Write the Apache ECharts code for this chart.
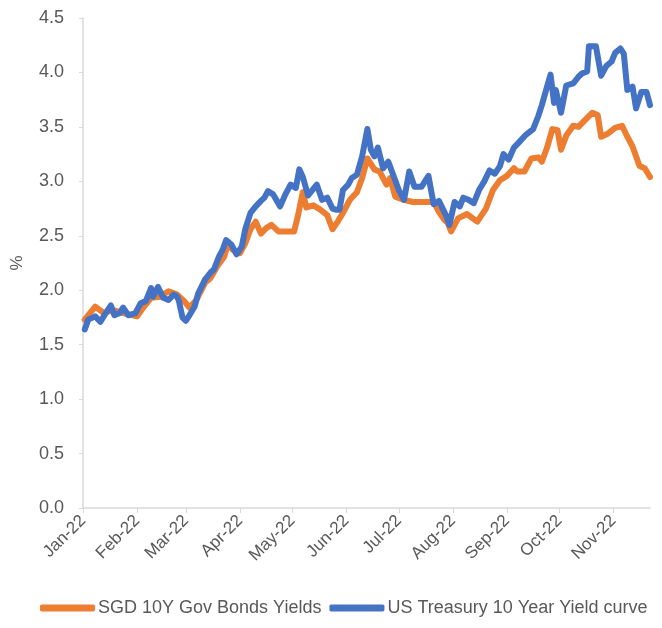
<!DOCTYPE html>
<html>
<head>
<meta charset="utf-8">
<title>SGD 10Y vs US Treasury 10Y</title>
<script src="https://cdn.jsdelivr.net/npm/echarts@6/dist/echarts.min.js"></script>
<style>
  html, body { margin: 0; padding: 0; background: #fff; }
  #chart { width: 662px; height: 628px; }
</style>
</head>
<body>
<div id="chart"></div>
<script>
// month names used for the x tick labels (Jan-22 ... Nov-22)
var monthNames = ['Jan', 'Feb', 'Mar', 'Apr', 'May', 'Jun', 'Jul', 'Aug', 'Sep', 'Oct', 'Nov', 'Dec'];

// SGD 10Y Gov Bonds Yields (%)
var sgdDates = ['2022-01-02','2022-01-08','2022-01-13','2022-01-18','2022-01-24','2022-02-01','2022-02-05','2022-02-09','2022-02-14','2022-02-19',
  '2022-02-24','2022-02-28','2022-03-03','2022-03-07','2022-03-12','2022-03-15','2022-03-19','2022-03-23','2022-03-25','2022-03-28',
  '2022-04-01','2022-04-04','2022-04-07','2022-04-10','2022-04-13','2022-04-16','2022-04-19','2022-04-23','2022-04-28','2022-05-02',
  '2022-05-04','2022-05-07','2022-05-09','2022-05-13','2022-05-17','2022-05-21','2022-05-24','2022-05-27','2022-05-30','2022-06-03',
  '2022-06-07','2022-06-10','2022-06-13','2022-06-17','2022-06-20','2022-06-24','2022-06-26','2022-06-29','2022-07-04','2022-07-09',
  '2022-07-15','2022-07-21','2022-07-24','2022-07-27','2022-07-29','2022-07-31','2022-08-04','2022-08-09','2022-08-15','2022-08-20',
  '2022-08-24','2022-08-28','2022-09-01','2022-09-05','2022-09-07','2022-09-11','2022-09-15','2022-09-19','2022-09-21','2022-09-24',
  '2022-09-27','2022-09-30','2022-10-02','2022-10-05','2022-10-09','2022-10-12','2022-10-15','2022-10-20','2022-10-23','2022-10-25',
  '2022-10-29','2022-11-02','2022-11-06','2022-11-09','2022-11-12','2022-11-14','2022-11-16','2022-11-19','2022-11-22'];
var sgdYields = [1.73,1.85,1.79,1.82,1.79,1.76,1.85,1.93,1.94,1.99,
  1.96,1.90,1.84,1.91,2.07,2.11,2.22,2.31,2.42,2.37,
  2.34,2.43,2.56,2.63,2.52,2.57,2.60,2.54,2.54,2.54,
  2.67,2.90,2.76,2.78,2.74,2.69,2.56,2.63,2.71,2.83,
  2.90,3.03,3.21,3.11,3.09,2.97,3.03,2.86,2.83,2.81,
  2.81,2.81,2.72,2.65,2.62,2.54,2.66,2.70,2.63,2.75,
  2.92,3.01,3.05,3.12,3.09,3.09,3.21,3.22,3.18,3.31,
  3.48,3.47,3.29,3.42,3.51,3.50,3.55,3.63,3.61,3.41,
  3.44,3.49,3.51,3.41,3.32,3.23,3.14,3.12,3.04];

// US Treasury 10 Year Yield curve (%)
var ustDates = ['2022-01-02','2022-01-04','2022-01-08','2022-01-11','2022-01-14','2022-01-17','2022-01-19','2022-01-22','2022-01-24','2022-01-27',
  '2022-01-31','2022-02-03','2022-02-06','2022-02-09','2022-02-10','2022-02-13','2022-02-16','2022-02-19','2022-02-22','2022-02-24',
  '2022-02-25','2022-02-27','2022-03-01','2022-03-03','2022-03-06','2022-03-08','2022-03-12','2022-03-15','2022-03-17','2022-03-20',
  '2022-03-22','2022-03-24','2022-03-27','2022-03-30','2022-04-02','2022-04-04','2022-04-07','2022-04-10','2022-04-13','2022-04-15',
  '2022-04-17','2022-04-20','2022-04-24','2022-04-27','2022-04-30','2022-05-03','2022-05-05','2022-05-07','2022-05-10','2022-05-12',
  '2022-05-15','2022-05-18','2022-05-21','2022-05-24','2022-05-26','2022-05-28','2022-05-30','2022-06-02','2022-06-04','2022-06-07',
  '2022-06-10','2022-06-13','2022-06-15','2022-06-17','2022-06-19','2022-06-22','2022-06-25','2022-06-28','2022-07-01','2022-07-04',
  '2022-07-07','2022-07-10','2022-07-14','2022-07-18','2022-07-21','2022-07-24','2022-07-28','2022-07-30','2022-08-02','2022-08-05',
  '2022-08-07','2022-08-10','2022-08-13','2022-08-16','2022-08-19','2022-08-22','2022-08-25','2022-08-28','2022-08-30','2022-09-02',
  '2022-09-05','2022-09-08','2022-09-12','2022-09-16','2022-09-19','2022-09-21','2022-09-24','2022-09-26','2022-09-28','2022-09-29',
  '2022-10-02','2022-10-05','2022-10-09','2022-10-12','2022-10-14','2022-10-17','2022-10-18','2022-10-22','2022-10-25','2022-10-28',
  '2022-10-31','2022-11-02','2022-11-05','2022-11-07','2022-11-09','2022-11-12','2022-11-14','2022-11-17','2022-11-20','2022-11-22'];
var ustYields = [1.64,1.73,1.76,1.71,1.79,1.86,1.77,1.79,1.84,1.77,
  1.79,1.88,1.90,2.02,1.94,2.03,1.93,1.91,1.96,1.94,
  1.90,1.75,1.72,1.77,1.85,1.97,2.10,2.16,2.19,2.31,
  2.37,2.46,2.42,2.33,2.40,2.56,2.71,2.77,2.82,2.85,
  2.91,2.88,2.77,2.88,2.97,2.94,3.11,3.04,2.87,2.91,
  2.97,2.83,2.85,2.75,2.74,2.74,2.92,2.97,3.03,3.06,
  3.23,3.48,3.29,3.23,3.31,3.12,3.18,3.05,2.92,2.83,
  3.09,2.95,2.95,3.05,2.79,2.82,2.69,2.60,2.81,2.77,
  2.85,2.83,2.80,2.92,3.00,3.10,3.07,3.14,3.25,3.20,
  3.31,3.36,3.43,3.48,3.60,3.70,3.87,3.98,3.72,3.84,
  3.63,3.88,3.90,3.96,3.99,4.01,4.24,4.24,3.97,4.06,
  4.10,4.18,4.22,4.17,3.84,3.87,3.67,3.82,3.82,3.70];

function pairs(dates, vals) {
  var out = [];
  for (var i = 0; i < dates.length; i++) {
    out.push([dates[i], vals[i]]);
  }
  return out;
}

var textColor = '#595959';
var axisColor = '#d9d9d9';
var fontFam = 'Liberation Sans, Arial, sans-serif';

var chart = echarts.init(document.getElementById('chart'));
chart.setOption({
  animation: false,
  grid: {
    left: 83,
    right: 12,
    top: 18,
    bottom: 120,
    outerBoundsMode: 'none' // keep the plot box where it is, labels may hang outside
  },
  legend: {
    data: ['SGD 10Y Gov Bonds Yields', 'US Treasury 10 Year Yield curve'],
    bottom: 11,
    left: 40,
    width: 660, // one row, no wrapping
    padding: 0,
    icon: 'roundRect',
    itemWidth: 55,
    itemHeight: 7,
    itemGap: 8,
    textStyle: { color: textColor, fontSize: 18, fontFamily: fontFam, padding: [0, 0, 0, -2] }
  },
  xAxis: {
    type: 'time',
    min: '2022-01-01',
    max: '2022-11-22',
    splitNumber: 11,
    minInterval: 28 * 86400000,
    maxInterval: 31 * 86400000,
    axisLine: { lineStyle: { color: axisColor, width: 1.5 } },
    axisTick: { show: true, length: 5, lineStyle: { color: axisColor } },
    splitLine: { show: false },
    axisLabel: {
      rotate: 45,
      margin: 10,
      color: textColor,
      fontSize: 17,
      fontFamily: fontFam,
      hideOverlap: false,
      formatter: function (value) {
        var d = new Date(value);
        return monthNames[d.getMonth()] + '-' + String(d.getFullYear()).slice(2);
      }
    }
  },
  yAxis: {
    type: 'value',
    min: 0,
    max: 4.5,
    interval: 0.5,
    name: '%',
    nameLocation: 'middle',
    nameGap: 57,
    nameTextStyle: { color: textColor, fontSize: 17, fontFamily: fontFam },
    axisLine: { show: true, lineStyle: { color: axisColor, width: 1.5 } },
    axisTick: { show: true, length: 4, lineStyle: { color: axisColor } },
    splitLine: { show: false },
    axisLabel: {
      color: textColor,
      fontSize: 18,
      fontFamily: fontFam,
      margin: 19,
      formatter: function (v) { return v.toFixed(1); }
    }
  },
  series: [
    {
      name: 'SGD 10Y Gov Bonds Yields',
      type: 'line',
      data: pairs(sgdDates, sgdYields),
      showSymbol: false,
      symbol: 'none',
      itemStyle: { color: '#ed7d31' },
      lineStyle: { color: '#ed7d31', width: 6, cap: 'round', join: 'round' }
    },
    {
      name: 'US Treasury 10 Year Yield curve',
      type: 'line',
      data: pairs(ustDates, ustYields),
      showSymbol: false,
      symbol: 'none',
      itemStyle: { color: '#4472c4' },
      lineStyle: { color: '#4472c4', width: 6, cap: 'round', join: 'round' }
    }
  ]
});
</script>
</body>
</html>
